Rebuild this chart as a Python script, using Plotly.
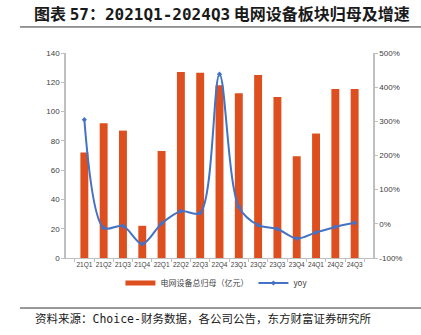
import plotly.graph_objects as go

quarters = ["21Q1", "21Q2", "21Q3", "21Q4", "22Q1", "22Q2", "22Q3", "22Q4",
            "23Q1", "23Q2", "23Q3", "23Q4", "24Q1", "24Q2", "24Q3"]
net_profit = [72, 92, 87, 22, 73, 127, 126.5, 118, 112.5, 125, 110, 69.5, 85, 115.5, 115.5]
yoy_pct = [305, -12, -6, -59, 1, 37, 32, 438, 50, -4, -15, -43, -25, -9, 3]

left_ticks = [0, 20, 40, 60, 80, 100, 120, 140]
right_ticks = [-100, 0, 100, 200, 300, 400, 500]

BAR = "#DE4F1F"
LINE = "#4472C4"
AXIS = "#BFBFBF"
TXT = "#404040"
CJK = "Noto Sans CJK SC"
MONO = "DejaVu Sans Mono"


def mono(s, bold=False):
    w = "font-weight:bold;" if bold else ""
    return f'<span style="font-family:{MONO};{w}">{s}</span>'


fig = go.Figure()
fig.add_trace(go.Bar(
    x=quarters, y=net_profit, name="电网设备总归母（亿元）", showlegend=False,
    marker=dict(color=BAR, line=dict(width=0)), width=0.41,
))
# legend key drawn as a thick bar-coloured stroke
fig.add_trace(go.Scatter(
    x=[None], y=[None], name="电网设备总归母（亿元）", mode="lines",
    line=dict(color=BAR, width=5),
))
fig.add_trace(go.Scatter(
    x=quarters, y=yoy_pct, name="yoy", yaxis="y2",
    mode="lines+markers", line=dict(color=LINE, width=2, shape="spline", smoothing=0.9),
    marker=dict(size=4, color=LINE, symbol="diamond"),
))

fig.update_layout(
    width=421, height=335,
    margin=dict(l=66, r=48, t=53, b=77),
    paper_bgcolor="white", plot_bgcolor="white",
    showlegend=True,
    legend=dict(orientation="h", x=0.49, xanchor="center", y=-0.122, yanchor="middle",
                font=dict(size=8, color=TXT, family=CJK), itemwidth=30,
                tracegroupgap=0, bgcolor="rgba(0,0,0,0)"),
    xaxis=dict(
        tickangle=0,
        tickfont=dict(size=6.5, color=TXT, family="Liberation Sans Narrow, Arial"),
        showline=True, linecolor=AXIS, linewidth=1,
        ticks="outside", ticklen=3, tickcolor=AXIS, tickson="boundaries",
        showgrid=False, fixedrange=True,
    ),
    yaxis=dict(
        range=[0, 140], tickvals=left_ticks,
        tickfont=dict(size=8, color=TXT, family="Arial"),
        showline=True, linecolor=AXIS, linewidth=1.5,
        ticks="outside", ticklen=3, tickcolor=AXIS,
        showgrid=False, zeroline=False,
    ),
    yaxis2=dict(
        overlaying="y", side="right",
        range=[-100, 500], tickvals=right_ticks,
        ticktext=[f"{v}%" for v in right_ticks],
        tickfont=dict(size=8, color=TXT, family="Arial"),
        showline=True, linecolor=AXIS, linewidth=1.5,
        ticks="outside", ticklen=3, tickcolor=AXIS,
        showgrid=False, zeroline=False,
    ),
    bargap=0.5,
)

# Header and footer
title = ("<b>图表 " + mono("57", True) + "：" + mono("2021Q1-2024Q3", True)
         + " 电网设备板块归母及增速</b>")
fig.add_annotation(
    text=title,
    xref="paper", yref="paper", x=-0.11, y=1.195, xanchor="left", yanchor="middle",
    showarrow=False, font=dict(size=16, color="#1a1a1a", family=CJK),
)
fig.add_shape(type="line", xref="paper", yref="paper", x0=-0.15, x1=1.16, y0=1.127, y1=1.127,
              line=dict(color="#333333", width=1))
fig.add_shape(type="line", xref="paper", yref="paper", x0=-0.15, x1=1.16, y0=-0.244, y1=-0.244,
              line=dict(color="#333333", width=1))
source = "资料来源：" + mono("Choice-") + "财务数据，各公司公告，东方财富证券研究所"
fig.add_annotation(
    text=source,
    xref="paper", yref="paper", x=-0.107, y=-0.293, xanchor="left", yanchor="middle",
    showarrow=False, font=dict(size=11.5, color="#1a1a1a", family=CJK),
)

fig.write_html("out.html")
